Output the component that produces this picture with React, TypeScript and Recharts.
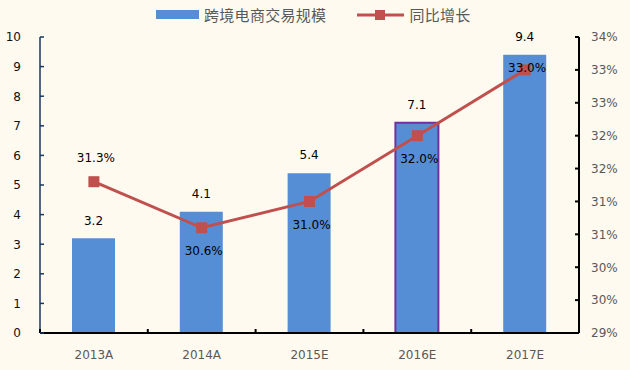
import React from 'react';
import { ComposedChart, Bar, Line, XAxis, YAxis, Cell, LabelList } from 'recharts';

const years = ['2013A', '2014A', '2015E', '2016E', '2017E'];
const tradeScale = [3.2, 4.1, 5.4, 7.1, 9.4];
const yoyGrowth = [31.3, 30.6, 31.0, 32.0, 33.0];
const leftTicks = [0, 1, 2, 3, 4, 5, 6, 7, 8, 9, 10];
const rightTicks = [29, 29.5, 30, 30.5, 31, 31.5, 32, 32.5, 33, 33.5];
// where each growth label sits relative to its marker
const growthLabelSide = ['above', 'below', 'below', 'below', 'center'];
const highlightIndex = 3;

const BAR_COLOR = '#558ED5';
const LINE_COLOR = '#C0504D';
const HIGHLIGHT = '#7030A0';
const BG = '#FFFAF0';
const FONT = '"DejaVu Sans", Verdana, sans-serif';

const data = years.map((year, i) => ({ year, scale: tradeScale[i], growth: yoyGrowth[i] }));

const LeftTick = (props: any) => {
  const { x, y, payload } = props;
  return (
    <g>
      <line x1={x + 19} x2={x + 23} y1={y} y2={y} stroke="#17375E" strokeWidth={1.5} />
      <text x={x} y={y} dy="0.36em" textAnchor="end" fontSize={12} fill="#111" fontFamily={FONT}>
        {payload.value}
      </text>
    </g>
  );
};

const RightTick = (props: any) => {
  const { x, y, payload } = props;
  return (
    <g>
      <line x1={x - 12} x2={x - 16} y1={y} y2={y} stroke="#000" strokeWidth={2} />
      <text x={x} y={y} dy="0.36em" textAnchor="start" fontSize={12} fill="#595959" fontFamily={FONT}>
        {Math.round(payload.value) + '%'}
      </text>
    </g>
  );
};

const BottomTick = (props: any) => {
  const { x, y, payload, index } = props;
  const half = payload.offset || 54;
  const axisY = y - 17;
  return (
    <g>
      <line x1={x - half} x2={x - half} y1={axisY} y2={axisY - 4} stroke="#000" strokeWidth={2} />
      {index === years.length - 1 && (
        <line x1={x + half} x2={x + half} y1={axisY} y2={axisY - 4} stroke="#000" strokeWidth={2} />
      )}
      <text x={x} y={y} dy="0.71em" textAnchor="middle" fontSize={12} fill="#595959" fontFamily={FONT}>
        {payload.value}
      </text>
    </g>
  );
};

const SquareDot = (props: any) => {
  const { cx, cy } = props;
  if (cx == null || cy == null) return null;
  return <rect x={cx - 5.5} y={cy - 5.5} width={11} height={11} fill={LINE_COLOR} />;
};

const BarValueLabel = (props: any) => {
  const { x, y, width, value } = props;
  return (
    <text x={x + width / 2} y={y - 18} dy="0.36em" textAnchor="middle" fontSize={12} fill="#000" fontFamily={FONT}>
      {value.toFixed(1)}
    </text>
  );
};

const GrowthLabel = (props: any) => {
  const { x, y, value, index } = props;
  const side = growthLabelSide[index];
  const dy = side === 'above' ? -24 : side === 'below' ? 23 : -2;
  return (
    <text x={x + 2} y={y + dy} dy="0.36em" textAnchor="middle" fontSize={12} fill="#000" fontFamily={FONT}>
      {value.toFixed(1) + '%'}
    </text>
  );
};

const ChartLegend = () => (
  <div
    style={{
      position: 'absolute',
      top: 4,
      left: 156,
      display: 'flex',
      alignItems: 'center',
      fontFamily: '"Noto Sans CJK SC", sans-serif',
      fontSize: 15,
      color: '#595959',
      letterSpacing: 0.3,
    }}
  >
    <span style={{ display: 'inline-block', width: 43, height: 9, background: BAR_COLOR, marginRight: 5 }} />
    <span>跨境电商交易规模</span>
    <svg width={47} height={12} style={{ marginLeft: 31, marginRight: 5 }}>
      <line x1={0} x2={47} y1={6} y2={6} stroke={LINE_COLOR} strokeWidth={3} />
      <rect x={18} y={1} width={10} height={10} fill={LINE_COLOR} />
    </svg>
    <span>同比增长</span>
  </div>
);

export default function App() {
  return (
    <div style={{ position: 'relative', width: 630, height: 370, background: BG }}>
      <style>{'body{margin:0}'}</style>
      <ChartLegend />
      <ComposedChart width={630} height={370} data={data} margin={{ top: 37, right: 0, bottom: 0, left: 0 }}>
        <XAxis
          dataKey="year"
          height={37}
          tickSize={0}
          tickMargin={17}
          axisLine={{ stroke: '#000', strokeWidth: 2 }}
          tickLine={false}
          tick={<BottomTick />}
          interval={0}
        />
        <YAxis
          yAxisId="left"
          width={40}
          domain={[0, 10]}
          ticks={leftTicks}
          interval={0}
          tickSize={0}
          tickMargin={19}
          tickLine={false}
          axisLine={{ stroke: '#17375E', strokeWidth: 1.5 }}
          tick={<LeftTick />}
        />
        <YAxis
          yAxisId="right"
          orientation="right"
          width={51}
          domain={[29, 33.5]}
          ticks={rightTicks}
          interval={0}
          tickSize={0}
          tickMargin={12}
          tickLine={false}
          axisLine={{ stroke: '#000', strokeWidth: 2 }}
          tick={<RightTick />}
        />
        <Bar yAxisId="left" dataKey="scale" barSize={43} fill={BAR_COLOR} isAnimationActive={false}>
          {data.map((_, i) => (
            <Cell
              key={i}
              fill={BAR_COLOR}
              stroke={i === highlightIndex ? HIGHLIGHT : 'none'}
              strokeWidth={i === highlightIndex ? 2 : 0}
            />
          ))}
          <LabelList dataKey="scale" content={<BarValueLabel />} />
        </Bar>
        <Line
          yAxisId="right"
          dataKey="growth"
          stroke={LINE_COLOR}
          strokeWidth={3}
          dot={<SquareDot />}
          activeDot={false}
          isAnimationActive={false}
        >
          <LabelList dataKey="growth" content={<GrowthLabel />} />
        </Line>
      </ComposedChart>
    </div>
  );
}
